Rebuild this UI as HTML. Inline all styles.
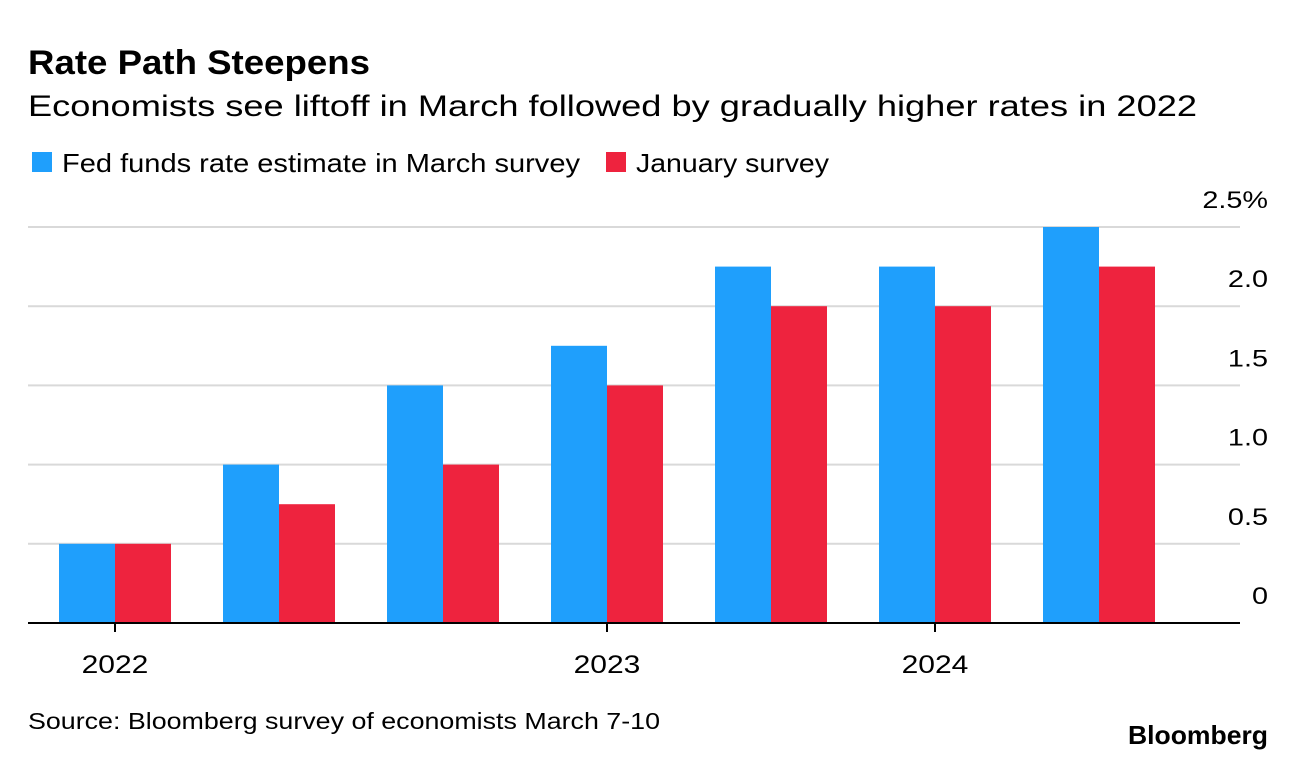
<!DOCTYPE html>
<html><head><meta charset="utf-8"><style>
body{margin:0;background:#fff;font-family:"Liberation Sans",sans-serif;}
#wrap{position:relative;width:1296px;height:760px;overflow:hidden;}
</style></head><body>
<div id="wrap">
<svg id="chart" width="1296" height="760">
<text x="28" y="74" font-size="34" font-weight="bold" fill="#000" textLength="342" lengthAdjust="spacingAndGlyphs">Rate Path Steepens</text>
<text x="28" y="116" font-size="30" fill="#000" textLength="1169" lengthAdjust="spacingAndGlyphs">Economists see liftoff in March followed by gradually higher rates in 2022</text>
<g>
<rect x="32" y="152" width="20" height="20" fill="#1f9ffc"/>
<text x="62" y="172" font-size="26" fill="#000" textLength="518" lengthAdjust="spacingAndGlyphs">Fed funds rate estimate in March survey</text>
<rect x="606" y="152" width="20" height="20" fill="#ee233e"/>
<text x="636" y="172" font-size="26" fill="#000" textLength="193" lengthAdjust="spacingAndGlyphs">January survey</text>
</g>
<g id="grid"></g><g id="bars"></g><g id="axes"></g>
<text x="28" y="729" font-size="23" fill="#000" textLength="632" lengthAdjust="spacingAndGlyphs">Source: Bloomberg survey of economists March 7-10</text>
<text x="1268" y="744" font-size="26" font-weight="bold" text-anchor="end" fill="#000" textLength="140" lengthAdjust="spacingAndGlyphs">Bloomberg</text>
</svg>
</div>
<script>
const categories=["Q1 2022","Q2 2022","Q3 2022","Q1 2023","Q2 2023","Q1 2024","Q2 2024"];
const marchValues=[0.5,1.0,1.5,1.75,2.25,2.25,2.5];
const januaryValues=[0.5,0.75,1.0,1.5,2.0,2.0,2.25];
const yTicks=[0,0.5,1.0,1.5,2.0,2.5];
const yTickLabels=["0","0.5","1.0","1.5","2.0","2.5%"];
const xTickIndex=[0,3,5];
const xTickLabels=["2022","2023","2024"];
const NS="http://www.w3.org/2000/svg";
const y0=623,pxPer=158.4,left=28,right=1240,g0=115,gStep=164,bw=56;
const yS=v=>y0-v*pxPer;
const xC=i=>g0+i*gStep;
function mk(t,a,p){const e=document.createElementNS(NS,t);for(const k in a)e.setAttribute(k,a[k]);p.appendChild(e);return e;}
function widen(t,f){const w=t.getComputedTextLength();t.setAttribute('textLength',w*f);t.setAttribute('lengthAdjust','spacingAndGlyphs');}
const grid=document.getElementById('grid'),bars=document.getElementById('bars'),axes=document.getElementById('axes');
yTicks.forEach((v,i)=>{
 if(v>0){const l=mk('line',{x1:left,x2:right,y1:yS(v),y2:yS(v),stroke:'#d9d9d9','stroke-width':2},grid);
 
 }
 const t=mk('text',{x:1268,y:yS(v)-19,'font-size':24,'text-anchor':'end',fill:'#000'},grid);t.textContent=yTickLabels[i];
 
 
 widen(t,1.2);
});
categories.forEach((c,i)=>{
 const b=mk('rect',{x:xC(i)-bw,y:yS(marchValues[i]),width:bw,height:y0-yS(marchValues[i]),fill:'#1f9ffc'},bars);
 
 
 const r=mk('rect',{x:xC(i),y:yS(januaryValues[i]),width:bw,height:y0-yS(januaryValues[i]),fill:'#ee233e'},bars);
 
 
});
const ax=mk('line',{x1:left,x2:right,y1:y0,y2:y0,stroke:'#000','stroke-width':2},axes);


xTickIndex.forEach((idx,i)=>{
 const tk=mk('line',{x1:xC(idx),x2:xC(idx),y1:y0,y2:y0+9,stroke:'#000','stroke-width':2},axes);
 
 
 const t=mk('text',{x:xC(idx),y:673,'font-size':25,'text-anchor':'middle',fill:'#000'},axes);t.textContent=xTickLabels[i];
 
 
 widen(t,1.2);
});
</script>
</body></html>
